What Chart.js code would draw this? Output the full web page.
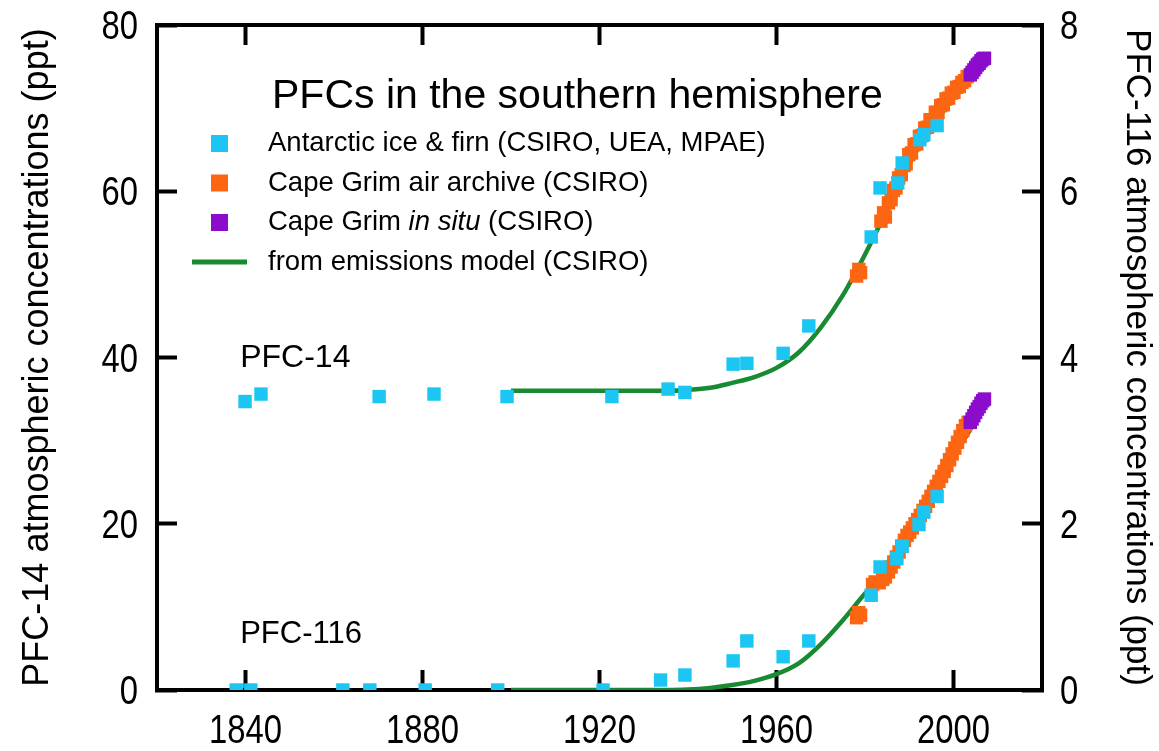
<!DOCTYPE html>
<html>
<head>
<meta charset="utf-8">
<title>PFCs in the southern hemisphere</title>
<script src="https://cdn.jsdelivr.net/npm/chart.js@4.4.0/dist/chart.umd.min.js"></script>
<style>
  html, body { margin: 0; padding: 0; background: #fff; }
  #wrap { width: 1159px; height: 751px; }
</style>
</head>
<body>
<div id="wrap"><canvas id="pfcChart" width="1159" height="751"></canvas></div>
<script>
// axis ticks
const xTicks = [1840, 1880, 1920, 1960, 2000];
const leftTicks = [0, 20, 40, 60, 80];
const rightTicks = [0, 2, 4, 6, 8];

// Antarctic ice & firn (CSIRO, UEA, MPAE)
const iceYears14 = [1839.9, 1843.5, 1870.2, 1882.6, 1899.1, 1922.8, 1935.5, 1939.3, 1950.2, 1953.3, 1961.5, 1967.3, 1981.4, 1983.4, 1987.4, 1988.4, 1992.4, 1993.3, 1996.3];
const ice14 = [34.7, 35.6, 35.3, 35.6, 35.3, 35.3, 36.2, 35.8, 39.2, 39.3, 40.5, 43.8, 54.5, 60.4, 61.0, 63.4, 66.2, 66.8, 67.9];
const iceYears116 = [1837.9, 1841.2, 1862.0, 1868.1, 1880.6, 1897.0, 1920.8, 1933.8, 1939.3, 1950.2, 1953.3, 1961.5, 1967.3, 1981.4, 1983.4, 1987.2, 1988.4, 1992.2, 1993.3, 1996.3];
const ice116 = [0, 0, 0, 0, 0, 0, 0, 0.12, 0.18, 0.35, 0.59, 0.40, 0.59, 1.14, 1.48, 1.58, 1.73, 1.99, 2.14, 2.33];

// Cape Grim air archive (CSIRO)
const archiveYears14 = [1978.1, 1978.6, 1979.0, 1983.6, 1984.2, 1984.6, 1985.3, 1985.9, 1986.4, 1987.0, 1987.6, 1988.2, 1988.8, 1989.3, 1989.9, 1990.5, 1991.1, 1991.7, 1992.3, 1992.9, 1993.5, 1994.1, 1994.7, 1995.3, 1995.9, 1996.5, 1997.1, 1997.7, 1998.3, 1998.9, 1999.5, 2000.1, 2000.7, 2001.3, 2001.9, 2002.5, 2003.1];
const archive14 = [49.8, 50.6, 50.2, 56.4, 57.4, 56.9, 58.6, 59.0, 60.1, 60.4, 61.6, 62.0, 63.1, 63.3, 64.4, 64.6, 65.6, 65.7, 66.6, 66.7, 67.6, 67.7, 68.6, 68.6, 69.5, 69.5, 70.3, 70.4, 71.1, 71.2, 71.8, 71.9, 72.5, 72.6, 73.1, 73.3, 73.8];
const archiveYears116 = [1978.1, 1978.6, 1979.0, 1981.7, 1982.3, 1983.2, 1984.0, 1984.6, 1985.3, 1985.9, 1986.5, 1987.1, 1987.7, 1988.3, 1988.9, 1989.5, 1990.1, 1990.7, 1991.3, 1991.9, 1992.5, 1993.1, 1993.7, 1994.3, 1994.9, 1995.5, 1996.1, 1996.7, 1997.3, 1997.9, 1998.5, 1999.1, 1999.7, 2000.3, 2000.9, 2001.5, 2002.1, 2002.7, 2003.3];
const archive116 = [0.87, 0.93, 0.90, 1.27, 1.30, 1.29, 1.33, 1.36, 1.42, 1.48, 1.54, 1.60, 1.66, 1.73, 1.80, 1.86, 1.90, 1.95, 2.00, 2.05, 2.10, 2.16, 2.21, 2.27, 2.33, 2.39, 2.45, 2.51, 2.57, 2.63, 2.70, 2.77, 2.84, 2.91, 2.98, 3.05, 3.12, 3.18, 3.22];

// Cape Grim in situ (CSIRO)
const insituYears = [2003.8, 2004.2, 2004.6, 2005.0, 2005.4, 2005.8, 2006.2, 2006.6, 2007.0];
const insitu14 = [74.0, 74.3, 74.6, 74.9, 75.2, 75.4, 75.7, 75.9, 76.0];
const insitu116 = [3.22, 3.26, 3.30, 3.34, 3.38, 3.41, 3.45, 3.48, 3.50];

// from emissions model (CSIRO)
const modelYears = [1900, 1910, 1920, 1930, 1935, 1940, 1945, 1950, 1955, 1960, 1965, 1970, 1975, 1980, 1985, 1990, 1995, 2000, 2005];
const model14 = [36.0, 36.0, 36.0, 36.0, 36.0, 36.1, 36.35, 36.95, 37.65, 38.75, 40.6, 43.6, 47.5, 52.4, 57.8, 63.3, 67.7, 71.2, 74.3];
const model116 = [0, 0, 0, 0, 0, 0.005, 0.025, 0.06, 0.11, 0.19, 0.32, 0.55, 0.84, 1.16, 1.45, 1.88, 2.33, 2.80, 3.24];

const cyan = '#1cc6f2';
const orange = '#fc6512';
const purple = '#8c0ccc';
const green = '#178a32';

const sans = "'Liberation Sans', Arial, sans-serif";

const pts = (xs, ys) => xs.map((x, i) => ({ x: x, y: ys[i] }));

function markers(label, xs, ys, axis, color, order) {
    return {
        label: label,
        data: pts(xs, ys),
        yAxisID: axis,
        showLine: false,
        pointStyle: 'rect',
        pointRadius: 9.5,
        pointBorderWidth: 0,
        backgroundColor: color,
        borderColor: color,
        order: order
    };
}

function modelLine(xs, ys, axis) {
    return {
        label: 'from emissions model (CSIRO)',
        data: pts(xs, ys),
        yAxisID: axis,
        showLine: true,
        pointRadius: 0,
        borderColor: green,
        borderWidth: 4.5,
        cubicInterpolationMode: 'monotone',
        order: 4
    };
}

const legendRows = [
    { color: cyan, parts: [['Antarctic ice & firn (CSIRO, UEA, MPAE)', false]] },
    { color: orange, parts: [['Cape Grim air archive (CSIRO)', false]] },
    { color: purple, parts: [['Cape Grim ', false], ['in situ', true], [' (CSIRO)', false]] },
    { color: green, line: true, parts: [['from emissions model (CSIRO)', false]] }
];

// title, legend and gas labels sit inside the plot frame
const panelText = {
    id: 'panelText',
    afterDraw(chart) {
        const { ctx, chartArea: a, scales } = chart;
        ctx.save();
        ctx.fillStyle = '#000';
        ctx.textAlign = 'left';
        ctx.textBaseline = 'alphabetic';
        ctx.font = '41px ' + sans;
        ctx.fillText('PFCs in the southern hemisphere', a.left + 115, a.top + 83);

        ctx.textBaseline = 'middle';
        legendRows.forEach((row, i) => {
            const cy = a.top + 118.5 + i * 39.5;
            if (row.line) {
                ctx.strokeStyle = row.color;
                ctx.lineWidth = 5;
                ctx.beginPath();
                ctx.moveTo(a.left + 35, cy);
                ctx.lineTo(a.left + 90, cy);
                ctx.stroke();
            } else {
                ctx.fillStyle = row.color;
                ctx.fillRect(a.left + 54, cy - 8.5, 17, 17);
            }
            ctx.fillStyle = '#000';
            let x = a.left + 111;
            row.parts.forEach(([txt, italic]) => {
                ctx.font = (italic ? 'italic ' : '') + '27.5px ' + sans;
                ctx.fillText(txt, x, cy);
                x += ctx.measureText(txt).width;
            });
        });

        ctx.textBaseline = 'alphabetic';
        ctx.font = '32px ' + sans;
        ctx.fillText('PFC-14', scales.x.getPixelForValue(1838.8), scales.y.getPixelForValue(38.8));
        ctx.font = '31px ' + sans;
        ctx.fillText('PFC-116', scales.x.getPixelForValue(1838.8), scales.y1.getPixelForValue(0.57));
        ctx.restore();
    }
};

// tick numbers in a condensed face (horizontally squeezed sans)
const narrowTicks = {
    id: 'narrowTicks',
    afterDraw(chart) {
        const { ctx, chartArea: a, scales } = chart;
        const put = (text, x, y, align) => {
            ctx.save();
            ctx.translate(x, y);
            ctx.scale(0.82, 1);
            ctx.textAlign = align;
            ctx.fillText(text, 0, 0);
            ctx.restore();
        };
        ctx.save();
        ctx.fillStyle = '#000';
        ctx.font = '40px ' + sans;
        ctx.textBaseline = 'middle';
        scales.x.ticks.forEach(t => put(String(t.value), scales.x.getPixelForValue(t.value), a.bottom + 42, 'center'));
        scales.y.ticks.forEach(t => put(String(t.value), a.left - 19, scales.y.getPixelForValue(t.value) + 3, 'right'));
        scales.y1.ticks.forEach(t => put(String(t.value), a.right + 18, scales.y1.getPixelForValue(t.value) + 3, 'left'));
        ctx.restore();
    }
};

const inwardGrid = {
    drawOnChartArea: false,
    drawTicks: true,
    tickLength: -20,
    tickWidth: 4,
    tickColor: '#000',
    color: '#000'
};
const frame = { display: true, color: '#000', width: 4 };
const useTicks = list => scale => { scale.ticks = list.map(v => ({ value: v })); };
const fixSize = (w, h) => scale => {
    if (w !== null) scale.width = w;
    if (h !== null) scale.height = h;
    scale.paddingTop = scale.paddingBottom = scale.paddingLeft = scale.paddingRight = 0;
};

const ctx = document.getElementById('pfcChart').getContext('2d');
new Chart(ctx, {
    type: 'scatter',
    data: {
        datasets: [
            markers('Antarctic ice & firn (CSIRO, UEA, MPAE)', iceYears14, ice14, 'y', cyan, 1),
            markers('Antarctic ice & firn (CSIRO, UEA, MPAE)', iceYears116, ice116, 'y1', cyan, 1),
            markers('Cape Grim air archive (CSIRO)', archiveYears14, archive14, 'y', orange, 3),
            markers('Cape Grim air archive (CSIRO)', archiveYears116, archive116, 'y1', orange, 3),
            markers('Cape Grim in situ (CSIRO)', insituYears, insitu14, 'y', purple, 2),
            markers('Cape Grim in situ (CSIRO)', insituYears, insitu116, 'y1', purple, 2),
            modelLine(modelYears, model14, 'y'),
            modelLine(modelYears, model116, 'y1')
        ]
    },
    options: {
        responsive: false,
        animation: false,
        events: [],
        layout: { padding: 0 },
        plugins: {
            legend: { display: false },
            tooltip: { enabled: false }
        },
        scales: {
            x: {
                type: 'linear',
                position: 'bottom',
                min: 1820,
                max: 2020,
                afterBuildTicks: useTicks(xTicks),
                afterFit: fixSize(null, 61),
                ticks: { display: false },
                grid: inwardGrid,
                border: frame
            },
            xTop: {
                type: 'linear',
                axis: 'x',
                position: 'top',
                min: 1820,
                max: 2020,
                afterBuildTicks: useTicks(xTicks),
                afterFit: fixSize(null, 25),
                ticks: { display: false },
                grid: inwardGrid,
                border: frame
            },
            y: {
                type: 'linear',
                position: 'left',
                min: 0,
                max: 80,
                afterBuildTicks: useTicks(leftTicks),
                afterFit: fixSize(157, null),
                ticks: { display: false },
                title: {
                    display: true,
                    text: 'PFC-14 atmospheric concentrations (ppt)',
                    font: { family: sans, size: 36 },
                    color: '#000',
                    padding: { top: 16 }
                },
                grid: inwardGrid,
                border: frame
            },
            y1: {
                type: 'linear',
                position: 'right',
                min: 0,
                max: 8,
                afterBuildTicks: useTicks(rightTicks),
                afterFit: fixSize(117, null),
                ticks: { display: false },
                title: {
                    display: true,
                    text: 'PFC-116 atmospheric concentrations (ppt)',
                    font: { family: sans, size: 35 },
                    color: '#000',
                    padding: { top: 1 }
                },
                grid: inwardGrid,
                border: frame
            }
        }
    },
    plugins: [panelText, narrowTicks]
});
</script>
</body>
</html>
